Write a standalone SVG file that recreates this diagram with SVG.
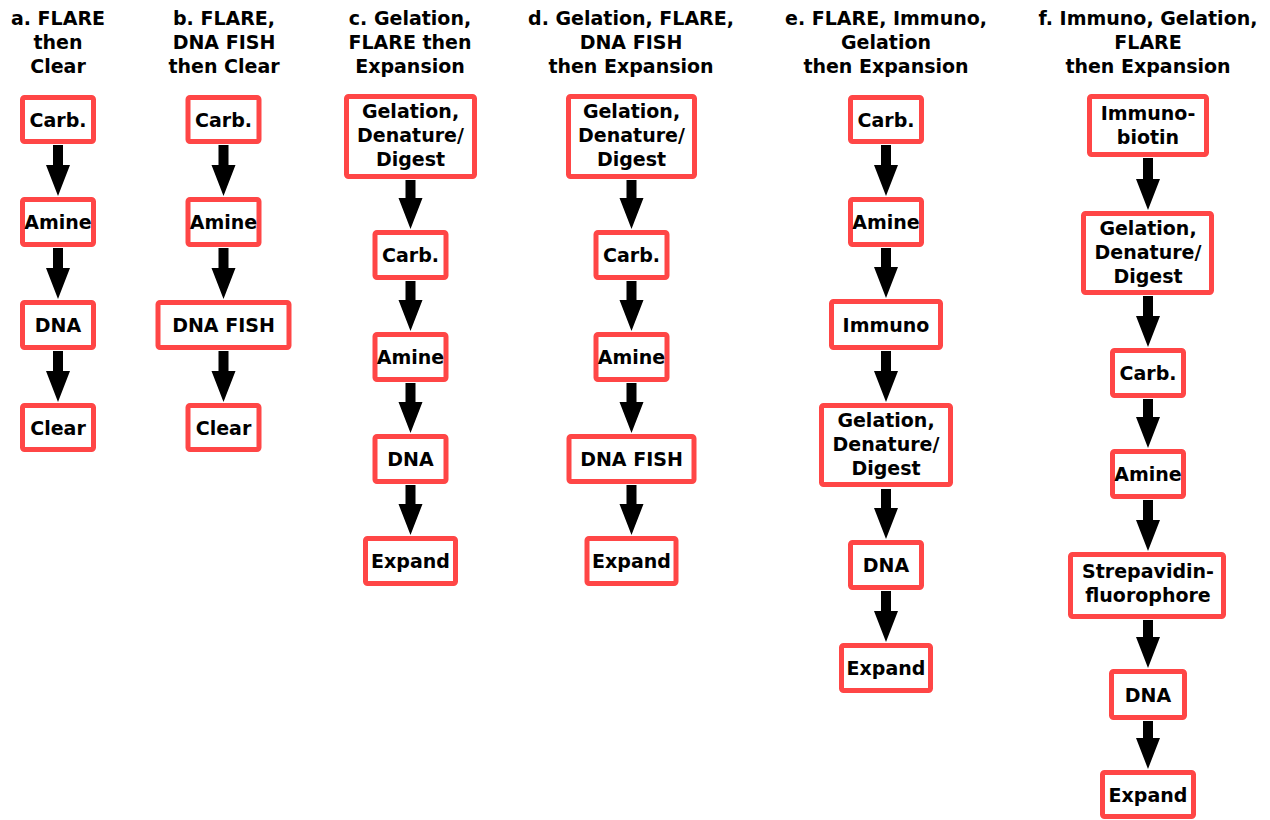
<svg xmlns="http://www.w3.org/2000/svg" width="1270" height="820" viewBox="0 0 1270 820">
<style>
text{font-family:"DejaVu Sans",sans-serif;font-weight:bold;font-size:19px;fill:#000;text-anchor:middle}
.box{fill:#fff;stroke:#ff4646;stroke-width:5}
.arr{fill:#000}
</style>
<rect width="1270" height="820" fill="#fff"/>
<g id="titles">
<text x="58" y="25">a. FLARE<tspan x="58" dy="24">then</tspan><tspan x="58" dy="24">Clear</tspan></text>
<text x="224" y="25">b. FLARE,<tspan x="224" dy="24">DNA FISH</tspan><tspan x="224" dy="24">then Clear</tspan></text>
<text x="410" y="25">c. Gelation,<tspan x="410" dy="24">FLARE then</tspan><tspan x="410" dy="24">Expansion</tspan></text>
<text x="631" y="25">d. Gelation, FLARE,<tspan x="631" dy="24">DNA FISH</tspan><tspan x="631" dy="24">then Expansion</tspan></text>
<text x="886" y="25">e. FLARE, Immuno,<tspan x="886" dy="24">Gelation</tspan><tspan x="886" dy="24">then Expansion</tspan></text>
<text x="1148" y="25">f. Immuno, Gelation,<tspan x="1148" dy="24">FLARE</tspan><tspan x="1148" dy="24">then Expansion</tspan></text>
</g>
<g id="connectors">
<path class="arr" d="M53 145H63V165H70L58 196L46 165H53Z"/>
<path class="arr" d="M53 248H63V268H70L58 299L46 268H53Z"/>
<path class="arr" d="M53 351H63V371H70L58 402L46 371H53Z"/>
<path class="arr" d="M218.5 145H228.5V165H235.5L223.5 196L211.5 165H218.5Z"/>
<path class="arr" d="M218.5 248H228.5V268H235.5L223.5 299L211.5 268H218.5Z"/>
<path class="arr" d="M218.5 351H228.5V371H235.5L223.5 402L211.5 371H218.5Z"/>
<path class="arr" d="M405.5 180H415.5V198H422.5L410.5 229L398.5 198H405.5Z"/>
<path class="arr" d="M405.5 281H415.5V300H422.5L410.5 331L398.5 300H405.5Z"/>
<path class="arr" d="M405.5 383H415.5V402H422.5L410.5 433L398.5 402H405.5Z"/>
<path class="arr" d="M405.5 485H415.5V504H422.5L410.5 535L398.5 504H405.5Z"/>
<path class="arr" d="M626.5 180H636.5V198H643.5L631.5 229L619.5 198H626.5Z"/>
<path class="arr" d="M626.5 281H636.5V300H643.5L631.5 331L619.5 300H626.5Z"/>
<path class="arr" d="M626.5 383H636.5V402H643.5L631.5 433L619.5 402H626.5Z"/>
<path class="arr" d="M626.5 485H636.5V504H643.5L631.5 535L619.5 504H626.5Z"/>
<path class="arr" d="M881 145H891V165H898L886 196L874 165H881Z"/>
<path class="arr" d="M881 248H891V267H898L886 298L874 267H881Z"/>
<path class="arr" d="M881 351H891V371H898L886 402L874 371H881Z"/>
<path class="arr" d="M881 489H891V508H898L886 539L874 508H881Z"/>
<path class="arr" d="M881 591H891V611H898L886 642L874 611H881Z"/>
<path class="arr" d="M1143 158H1153V179H1160L1148 210L1136 179H1143Z"/>
<path class="arr" d="M1143 296H1153V316H1160L1148 347L1136 316H1143Z"/>
<path class="arr" d="M1143 399H1153V417H1160L1148 448L1136 417H1143Z"/>
<path class="arr" d="M1143 500H1153V520H1160L1148 551L1136 520H1143Z"/>
<path class="arr" d="M1143 620H1153V637H1160L1148 668L1136 637H1143Z"/>
<path class="arr" d="M1143 721H1153V738H1160L1148 769L1136 738H1143Z"/>
</g>
<g id="a1"><rect class="box" x="22.5" y="97.5" width="71" height="44" rx="2"/><text x="58" y="127">Carb.</text></g>
<g id="a2"><rect class="box" x="22.5" y="199.5" width="71" height="45" rx="2"/><text x="58" y="229">Amine</text></g>
<g id="a3"><rect class="box" x="22.5" y="302.5" width="71" height="45" rx="2"/><text x="58" y="332">DNA</text></g>
<g id="a4"><rect class="box" x="22.5" y="405.5" width="71" height="44" rx="2"/><text x="58" y="435">Clear</text></g>
<g id="b1"><rect class="box" x="188" y="97.5" width="71" height="44" rx="2"/><text x="223.5" y="127">Carb.</text></g>
<g id="b2"><rect class="box" x="188" y="199.5" width="71" height="45" rx="2"/><text x="223.5" y="229">Amine</text></g>
<g id="b3"><rect class="box" x="158" y="302.5" width="131" height="45" rx="2"/><text x="223.5" y="332">DNA FISH</text></g>
<g id="b4"><rect class="box" x="188" y="405.5" width="71" height="44" rx="2"/><text x="223.5" y="435">Clear</text></g>
<g id="c1"><rect class="box" x="346.5" y="96.5" width="128" height="80" rx="2"/><text x="410.5" y="118">Gelation,<tspan x="410.5" dy="24">Denature/</tspan><tspan x="410.5" dy="24">Digest</tspan></text></g>
<g id="c2"><rect class="box" x="375" y="232.5" width="71" height="45" rx="2"/><text x="410.5" y="262">Carb.</text></g>
<g id="c3"><rect class="box" x="375" y="334.5" width="71" height="45" rx="2"/><text x="410.5" y="364">Amine</text></g>
<g id="c4"><rect class="box" x="375" y="436.5" width="71" height="45" rx="2"/><text x="410.5" y="466">DNA</text></g>
<g id="c5"><rect class="box" x="365.5" y="538.5" width="90" height="45" rx="2"/><text x="410.5" y="568">Expand</text></g>
<g id="d1"><rect class="box" x="568.5" y="96.5" width="126" height="80" rx="2"/><text x="631.5" y="118">Gelation,<tspan x="631.5" dy="24">Denature/</tspan><tspan x="631.5" dy="24">Digest</tspan></text></g>
<g id="d2"><rect class="box" x="596" y="232.5" width="71" height="45" rx="2"/><text x="631.5" y="262">Carb.</text></g>
<g id="d3"><rect class="box" x="596" y="334.5" width="71" height="45" rx="2"/><text x="631.5" y="364">Amine</text></g>
<g id="d4"><rect class="box" x="569" y="436.5" width="125" height="45" rx="2"/><text x="631.5" y="466">DNA FISH</text></g>
<g id="d5"><rect class="box" x="587" y="538.5" width="89" height="45" rx="2"/><text x="631.5" y="568">Expand</text></g>
<g id="e1"><rect class="box" x="850.5" y="97.5" width="71" height="44" rx="2"/><text x="886" y="127">Carb.</text></g>
<g id="e2"><rect class="box" x="850.5" y="199.5" width="71" height="45" rx="2"/><text x="886" y="229">Amine</text></g>
<g id="e3"><rect class="box" x="831.5" y="301.5" width="109" height="46" rx="2"/><text x="886" y="332">Immuno</text></g>
<g id="e4"><rect class="box" x="821.5" y="405.5" width="129" height="79" rx="2"/><text x="886" y="427">Gelation,<tspan x="886" dy="24">Denature/</tspan><tspan x="886" dy="24">Digest</tspan></text></g>
<g id="e5"><rect class="box" x="850.5" y="542.5" width="71" height="45" rx="2"/><text x="886" y="572">DNA</text></g>
<g id="e6"><rect class="box" x="841.5" y="645.5" width="89" height="45" rx="2"/><text x="886" y="675">Expand</text></g>
<g id="f1"><rect class="box" x="1089.5" y="96.5" width="117" height="58" rx="2"/><text x="1148" y="120">Immuno-<tspan x="1148" dy="24">biotin</tspan></text></g>
<g id="f2"><rect class="box" x="1083.5" y="213.5" width="128" height="79" rx="2"/><text x="1148" y="235">Gelation,<tspan x="1148" dy="24">Denature/</tspan><tspan x="1148" dy="24">Digest</tspan></text></g>
<g id="f3"><rect class="box" x="1112.5" y="350.5" width="71" height="45" rx="2"/><text x="1148" y="380">Carb.</text></g>
<g id="f4"><rect class="box" x="1112.5" y="451.5" width="71" height="45" rx="2"/><text x="1148" y="481">Amine</text></g>
<g id="f5"><rect class="box" x="1070.5" y="554.5" width="153" height="62" rx="2"/><text x="1148" y="578">Strepavidin-<tspan x="1148" dy="24">fluorophore</tspan></text></g>
<g id="f6"><rect class="box" x="1111.5" y="671.5" width="73" height="46" rx="2"/><text x="1148" y="702">DNA</text></g>
<g id="f7"><rect class="box" x="1102.5" y="772.5" width="91" height="44" rx="2"/><text x="1148" y="802">Expand</text></g>
</svg>
